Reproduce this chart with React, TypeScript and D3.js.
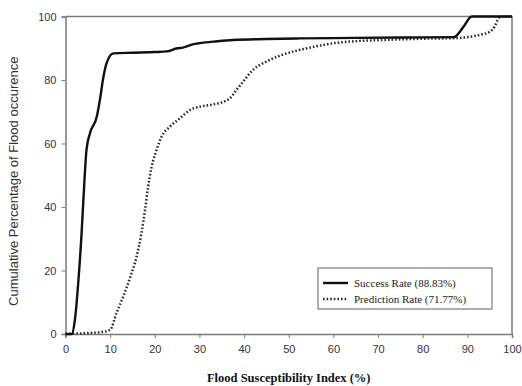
import { useEffect, useRef } from 'react'
import * as d3 from 'd3'

const successX = [0, 1.4, 2.1, 2.9, 3.6, 4.0, 4.7, 5.5, 7.0, 7.7, 8.5, 9.2, 10.7, 15, 20, 22.7, 25, 26.3, 28.5, 30, 34, 37.5, 45, 52.5, 60, 75, 87, 89, 91, 95, 100]
const successY = [0, 0, 4.4, 17, 31.7, 42, 58, 63.3, 68.4, 73.7, 81, 85.3, 88.4, 88.6, 88.8, 89, 90, 90.2, 91.2, 91.6, 92.2, 92.6, 92.9, 93.1, 93.2, 93.4, 93.5, 96.5, 100, 100, 100]
const predX = [0, 5, 8, 10, 11.4, 12.9, 14.4, 15.9, 17.0, 17.8, 18.5, 19.3, 20.4, 21.5, 23.4, 25.6, 27.9, 30.1, 33, 35.5, 36.8, 38.3, 39.8, 42, 45, 48.7, 52.5, 56.2, 60, 63.6, 71, 80, 87.5, 92.7, 95, 96.1, 96.8, 97.5, 100]
const predY = [0, 0.3, 0.6, 1.3, 6.5, 11.7, 17.5, 24.3, 31.7, 39, 46.4, 52.7, 58, 62.1, 65.3, 67.9, 70.6, 71.6, 72.3, 73.2, 74.2, 76.9, 79.5, 83.2, 85.8, 88, 89.5, 90.6, 91.6, 92.1, 92.6, 93, 93.2, 94.2, 95.2, 96.8, 99, 100, 100]
const xTicks = [0, 10, 20, 30, 40, 50, 60, 70, 80, 90, 100]
const yTicks = [0, 20, 40, 60, 80, 100]
const legendLabels = ['Success Rate (88.83%)', 'Prediction Rate (71.77%)']

export default function App() {
  const svgRef = useRef<SVGSVGElement>(null)

  useEffect(() => {
    const W = 522, H = 386
    const pad = { l: 65.5, r: 10, t: 16.5, b: 52 }
    const axisC = '#7a7a7a'
    const sans = '"Liberation Sans", Arial, sans-serif'
    const serif = '"Liberation Serif", "Times New Roman", serif'

    const x = d3.scaleLinear().domain([0, 100]).range([pad.l, W - pad.r])
    const y = d3.scaleLinear().domain([0, 100]).range([H - pad.b, pad.t])

    const svg = d3.select(svgRef.current)
    svg.selectAll('*').remove()
    svg.attr('width', W).attr('height', H).style('background', '#fff')

    // frame (top + right)
    svg.append('path')
      .attr('d', `M${x(0)},${y(100)}H${x(100)}V${y(0)}`)
      .attr('fill', 'none').attr('stroke', axisC).attr('stroke-width', 1.5)

    // axes
    const xAxis = svg.append('g').attr('transform', `translate(0,${y(0)})`)
      .call(d3.axisBottom(x).tickValues(xTicks).tickSize(4).tickPadding(7))
    const yAxis = svg.append('g').attr('transform', `translate(${x(0)},0)`)
      .call(d3.axisLeft(y).tickValues(yTicks).tickSize(4).tickPadding(5))
    ;[xAxis, yAxis].forEach(g => {
      g.select('.domain').attr('stroke', axisC).attr('stroke-width', 1.5)
      g.selectAll('.tick line').attr('stroke', axisC).attr('stroke-width', 1)
      g.selectAll('.tick text').attr('fill', '#333').attr('font-size', 11).attr('font-family', sans)
    })

    const line = d3.line<[number, number]>().x(d => x(d[0])).y(d => y(d[1])).curve(d3.curveMonotoneX)
    const succ = successX.map((v, i) => [v, successY[i]] as [number, number])
    const pred = predX.map((v, i) => [v, predY[i]] as [number, number])

    svg.append('path').datum(pred).attr('d', line).attr('fill', 'none')
      .attr('stroke', '#2a2a2a').attr('stroke-width', 2.5).attr('stroke-dasharray', '1.6,2')
    svg.append('path').datum(succ).attr('d', line).attr('fill', 'none')
      .attr('stroke', '#111').attr('stroke-width', 2.4)

    // legend
    const lg = svg.append('g')
    lg.append('rect').attr('x', 318).attr('y', 268).attr('width', 174).attr('height', 41)
      .attr('fill', '#fff').attr('stroke', axisC).attr('stroke-width', 1.2)
    legendLabels.forEach((lab, i) => {
      const ly = 283 + i * 16
      lg.append('line').attr('x1', 323).attr('x2', 348).attr('y1', ly).attr('y2', ly)
        .attr('stroke', i === 0 ? '#111' : '#2a2a2a').attr('stroke-width', i === 0 ? 2.4 : 2.5)
        .attr('stroke-dasharray', i === 0 ? null : '1.6,2')
      lg.append('text').attr('x', 354).attr('y', ly + 4).attr('font-family', serif)
        .attr('font-size', 11).attr('fill', '#222').text(lab)
    })

    // axis titles
    svg.append('text').attr('x', (x(0) + x(100)) / 2).attr('y', 382).attr('text-anchor', 'middle')
      .attr('font-family', serif).attr('font-weight', 'bold').attr('font-size', 12.5).attr('fill', '#111')
      .text('Flood Susceptibility Index (%)')
    svg.append('text').attr('transform', `translate(18,${(y(0) + y(100)) / 2 + 6}) rotate(-90)`)
      .attr('text-anchor', 'middle').attr('font-family', sans).attr('font-size', 13).attr('fill', '#333')
      .text('Cumulative Percentage of Flood occurence')
  }, [])

  return (
    <div style={{ position: 'fixed', left: 0, top: 0 }}>
      <svg ref={svgRef} style={{ display: 'block' }} />
    </div>
  )
}
